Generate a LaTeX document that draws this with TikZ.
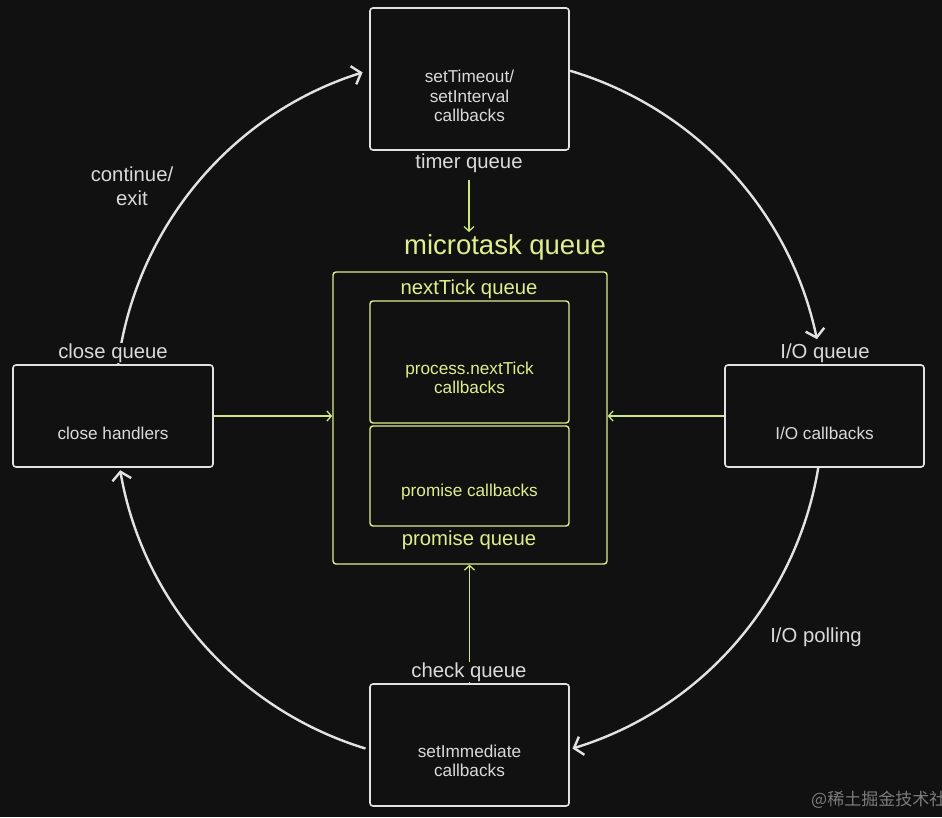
\documentclass[tikz,border=0pt]{standalone}
\usepackage{fontspec}
\setmainfont{Liberation Sans}
\newfontfamily\cjk{Noto Sans CJK SC}
\usetikzlibrary{arrows.meta}
\definecolor{bg}{RGB}{17,17,17}
\definecolor{wht}{RGB}{226,226,226}
\definecolor{txt}{RGB}{218,218,218}
\definecolor{yel}{RGB}{224,238,142}
\definecolor{grn}{RGB}{205,232,125}
\begin{document}
\begin{tikzpicture}[x=1pt,y=1pt,
  wbox/.style={draw=wht,line width=1.6pt,rounded corners=3pt,inner sep=0pt},
  ybox/.style={draw=yel,line width=1.4pt,rounded corners=3pt,inner sep=0pt},
  btxt/.style={text=txt,font=\fontsize{17.2}{19.5}\selectfont,align=center},
  ytxt/.style={text=yel,font=\fontsize{17.2}{19.5}\selectfont,align=center},
  qlabel/.style={text=txt,font=\fontsize{20.3}{23}\selectfont,inner sep=1pt},
  ylabel/.style={text=yel,font=\fontsize{20.3}{23}\selectfont,inner sep=1pt},
  mask/.style={fill=bg},
  loop/.style={draw=wht,line width=2.4pt,-{Straight Barb[length=8pt,width=19pt,line width=2.4pt]}},
  feed/.style={draw=grn,line width=1.3pt,-{Straight Barb[length=4.5pt,width=10pt,line width=1.3pt]}}]
\fill[bg] (0,0) rectangle (942,817);
\useasboundingbox (0,0) rectangle (942,817);

% circle centre
\coordinate (c) at (469,407);

% loop arcs (drawn first, labels mask them)
\draw[loop] (c) ++(172.5:354) coordinate (a1s) arc[start angle=172.5,end angle=107.5,radius=354] coordinate (a1e);
\draw[loop] (c) ++(73.4:354) coordinate (a2s) arc[start angle=73.4,end angle=11.8,radius=356] coordinate (a2e);
\draw[loop] (c) ++(-9.2:354) coordinate (a3s) arc[start angle=-9.2,end angle=-73,radius=354] coordinate (a3e);
\draw[loop] (c) ++(-107:354) coordinate (a4s) arc[start angle=-107,end angle=-170.2,radius=354] coordinate (a4e);

% macrotask boxes
\node[wbox,minimum width=199pt,minimum height=142pt] (timer) at (469.5,738) {};
\node[btxt] (timert) at (469.5,721) {setTimeout/\\setInterval\\callbacks};
\node[wbox,minimum width=200pt,minimum height=102pt] (close) at (113,401) {};
\node[btxt] (closet) at (113,384) {close handlers};
\node[wbox,minimum width=199pt,minimum height=102pt] (io) at (824.5,401) {};
\node[btxt] (iot) at (824.5,384) {I/O callbacks};
\node[wbox,minimum width=199pt,minimum height=122pt] (check) at (469.5,72) {};
\node[btxt] (checkt) at (469.5,56) {setImmediate\\callbacks};

% microtask boxes
\node[ybox,minimum width=274pt,minimum height=292pt] (outer) at (470,399) {};
\node[ybox,minimum width=199pt,minimum height=122pt] (ntbox) at (469.5,455) {};
\node[ytxt] (ntt) at (469.5,439) {process.nextTick\\callbacks};
\node[ybox,minimum width=199pt,minimum height=100pt] (prbox) at (469.5,341) {};
\node[ytxt] (prt) at (469.5,325) {promise callbacks};

% labels
\node[qlabel] (tq) at (469,654) {timer queue};
\node[ylabel,font=\fontsize{27.5}{30}\selectfont] (mq) at (505,570) {microtask queue};
\node[ylabel] (ntq) at (469,528) {nextTick queue};
\node[ylabel] (prq) at (469,277) {promise queue};
\node[qlabel,mask] (cq) at (113,464) {close queue};
\node[qlabel] (iq) at (825,464) {I/O queue};
\node[qlabel,align=center,font=\fontsize{20.3}{24}\selectfont] (ce) at (132,631) {continue/\\exit};
\node[qlabel] (iop) at (816,180) {I/O polling};

% feeds into microtask queue
\draw[feed,shorten <=6pt,shorten >=1pt] (tq.south) -- (tq.south |- mq.north);
\draw[feed] (close.east) -- (close.east -| outer.west);
\draw[feed] (io.west) -- (io.west -| outer.east);
\draw[feed] (check.north) -- (check.north |- outer.south);
\node[qlabel,mask] (chq) at (469,145) {check queue};

% watermark (cut off at the right edge, as in the reference)
\node[anchor=west,text=white!45!bg,font=\cjk\fontsize{17}{20}\selectfont,inner sep=0pt] (wm) at (811,17) {@稀土掘金技术社区};
\end{tikzpicture}
\end{document}
